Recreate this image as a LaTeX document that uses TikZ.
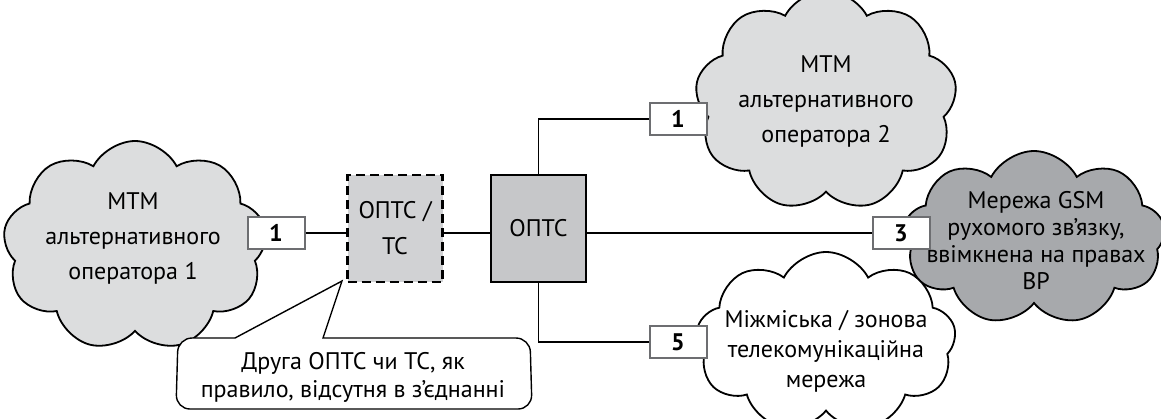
\documentclass[tikz,border=0pt]{standalone}
\usepackage{fontspec}
\setmainfont{PT Sans}
\usetikzlibrary{shapes.symbols}
\definecolor{cloudlight}{HTML}{DCDDDE}
\definecolor{clouddark}{HTML}{A7A9AC}
\definecolor{stationfill}{HTML}{C6C7C9}
\definecolor{optionalfill}{HTML}{D1D2D4}
\definecolor{tagborder}{HTML}{6D6E71}
\tikzset{
  netcloud/.style={cloud, cloud puffs=9, cloud puff arc=125, cloud ignores aspect,
    shape border rotate=90,
    draw=black, line width=1.8pt, inner sep=0pt, outer sep=0pt},
  cloudtext/.style={align=center, inner sep=0pt, font=\fontsize{24}{35}\selectfont},
  tagbox/.style={draw=tagborder, line width=2pt, fill=white, minimum width=57pt,
    minimum height=32pt, inner sep=0pt, font=\fontsize{24}{26}\selectfont\bfseries},
  station/.style={draw=black, line width=2.4pt, minimum width=95pt, minimum height=107pt,
    inner sep=0pt, align=center, font=\fontsize{24}{36}\selectfont},
  link/.style={draw=black, line width=1.4pt},
}
\begin{document}
\begin{tikzpicture}[x=1pt, y=-1pt]
\useasboundingbox (0,0) rectangle (1161,418);

% clouds of the networks
\node[netcloud, fill=cloudlight, minimum width=264pt, minimum height=210pt] (op1) at (135,246) {};
\node[cloudtext] (op1t) at (133,238) {МТМ\\альтернативного\\оператора 1};

\node[netcloud, fill=cloudlight, minimum width=262pt, minimum height=220pt] (op2) at (826,101) {};
\node[cloudtext] (op2t) at (826,101) {МТМ\\альтернативного\\оператора 2};

\node[netcloud, fill=clouddark, minimum width=262pt, minimum height=174pt] (gsm) at (1034,238) {};
\node[cloudtext, font=\fontsize{24}{27}\selectfont] (gsmt) at (1036,241)
  {Мережа GSM\\рухомого зв’язку,\\ввімкнена на правах\\ВР};

\node[netcloud, fill=white, minimum width=260pt, minimum height=180pt] (ld) at (826,342) {};
\node[cloudtext, font=\fontsize{24}{30}\selectfont] (ldt) at (826,351)
  {Міжміська / зонова\\телекомунікаційна\\мережа};

% exchanges
\node[station, fill=optionalfill, dashed, dash pattern=on 9pt off 5pt] (alt) at (395,228.5) {ОПТС /\\ТС};
\node[station, fill=stationfill] (opts) at (538.5,228.5) {ОПТС};

% numbered interface tags
\node[tagbox] (t1) at (276,233) {1};
\node[tagbox] (t2) at (678,119) {1};
\node[tagbox] (t3) at (901,233) {3};
\node[tagbox] (t5) at (678,342) {5};

% connections
\draw[link] (t1.east) -- (t1.east -| alt.west);
\draw[link] (alt.east |- t1.east) -- (opts.west |- t1.east);
\draw[link] (opts.east |- t3.west) -- (t3.west);
\draw[link] (opts.north) |- (t2.west);
\draw[link] (opts.south) |- (t5.west);

% callout with its pointer to the optional exchange
\coordinate (tip) at (342,281);
\draw[black, line width=1.4pt, fill=white]
  (235,338) -- (tip) -- (323,338)
  [rounded corners=14pt] -- (530,338) -- (532,409) -- (176,409) -- (178,338)
  [sharp corners] -- (235,338);
\node[align=center, inner sep=0pt, font=\fontsize{24}{28}\selectfont] (note) at (353,377)
  {Друга ОПТС чи ТС, як\\правило, відсутня в з’єднанні};
\end{tikzpicture}
\end{document}
